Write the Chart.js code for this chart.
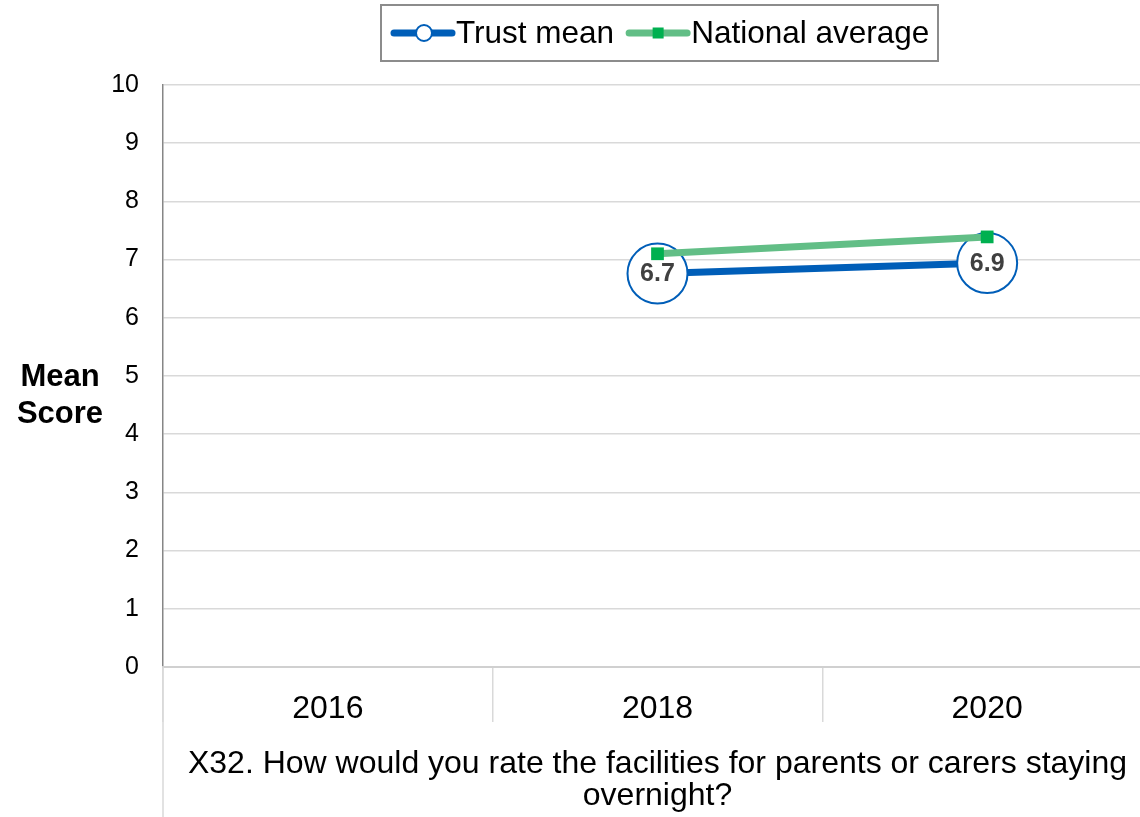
<!DOCTYPE html>
<html lang="en">
<head>
    <meta charset="UTF-8">
    <title>Mean Score</title>
    <script src="https://cdn.jsdelivr.net/npm/chart.js"></script>
    <style>
        body { margin: 0; overflow: hidden; background: #fff; }
        #scoreChart { display: block; }
    </style>
</head>
<body>
    <canvas id="scoreChart" width="1184" height="817"></canvas>

    <script>
        // data
        const years = ['2016', '2018', '2020'];
        const trustMean = [null, 6.76, 6.94];
        const trustLabels = ['', '6.7', '6.9'];
        const nationalAverage = [null, 7.1, 7.39];
        const seriesNames = ['Trust mean', 'National average'];
        const yTitle = ['Mean', 'Score'];
        const xTitle = ['X32. How would you rate the facilities for parents or carers staying', 'overnight?'];

        const FONT = "'Liberation Sans', Arial, sans-serif";
        const BLUE = '#005EB8';
        const GREEN_LINE = '#62BE86';
        const GREEN_MARK = '#00B050';

        // legend, axis titles and value labels
        const extras = {
            id: 'extras',
            afterDatasetsDraw(chart) {
                const ctx = chart.ctx;
                const meta = chart.getDatasetMeta(1);
                ctx.save();
                ctx.font = 'bold 25px ' + FONT;
                ctx.fillStyle = '#404040';
                ctx.textAlign = 'center';
                ctx.textBaseline = 'middle';
                meta.data.forEach((pt, i) => {
                    if (trustLabels[i]) ctx.fillText(trustLabels[i], pt.x, pt.y + 1);
                });
                ctx.restore();
            },
            afterDraw(chart) {
                const ctx = chart.ctx;
                const area = chart.chartArea;
                ctx.save();
                // y title, horizontal
                ctx.font = 'bold 31px ' + FONT;
                ctx.fillStyle = '#000';
                ctx.textAlign = 'center';
                ctx.textBaseline = 'middle';
                ctx.fillText(yTitle[0], 60, 377);
                ctx.fillText(yTitle[1], 60, 414);

                // x title, centred under the plot
                ctx.font = '32px ' + FONT;
                const cx = (area.left + area.right) / 2;
                ctx.fillText(xTitle[0], cx, 764);
                ctx.fillText(xTitle[1], cx, 796);

                // left border running down through the x label area
                ctx.strokeStyle = '#d9d9d9';
                ctx.lineWidth = 1.5;
                ctx.beginPath();
                ctx.moveTo(area.left, area.bottom);
                ctx.lineTo(area.left, chart.height);
                ctx.stroke();

                // legend box
                ctx.strokeStyle = '#8c8c8c';
                ctx.lineWidth = 2;
                ctx.strokeRect(381, 5, 557, 56);
                const y = 33;
                ctx.font = '31.5px ' + FONT;
                ctx.textAlign = 'left';
                let x = 394;
                // trust mean
                ctx.strokeStyle = BLUE;
                ctx.lineWidth = 7;
                ctx.lineCap = 'round';
                ctx.beginPath(); ctx.moveTo(x, y); ctx.lineTo(x + 58, y); ctx.stroke();
                ctx.beginPath(); ctx.arc(x + 30, y, 8, 0, Math.PI * 2);
                ctx.fillStyle = '#fff'; ctx.fill();
                ctx.lineWidth = 2; ctx.stroke();
                ctx.fillStyle = '#000';
                ctx.fillText(seriesNames[0], x + 62, y + 1);
                x = x + 62 + ctx.measureText(seriesNames[0]).width + 15;
                // national average
                ctx.strokeStyle = GREEN_LINE;
                ctx.lineWidth = 7;
                ctx.beginPath(); ctx.moveTo(x, y); ctx.lineTo(x + 58, y); ctx.stroke();
                ctx.fillStyle = GREEN_MARK;
                ctx.fillRect(x + 29 - 5.5, y - 5.5, 11, 11);
                ctx.fillStyle = '#000';
                ctx.fillText(seriesNames[1], x + 62, y + 1);
                ctx.restore();
            }
        };

        const ctx = document.getElementById('scoreChart').getContext('2d');
        new Chart(ctx, {
            type: 'line',
            data: {
                labels: years,
                datasets: [{
                    label: seriesNames[1],
                    data: nationalAverage,
                    order: 0,
                    borderColor: GREEN_LINE,
                    borderWidth: 7,
                    pointStyle: 'rect',
                    pointRadius: 9,
                    pointBorderWidth: 0,
                    pointBackgroundColor: GREEN_MARK,
                    pointHoverRadius: 9,
                    tension: 0
                }, {
                    label: seriesNames[0],
                    data: trustMean,
                    order: 1,
                    borderColor: BLUE,
                    borderWidth: 7,
                    pointStyle: 'circle',
                    pointRadius: 30,
                    pointBorderWidth: 2,
                    pointBorderColor: BLUE,
                    pointBackgroundColor: '#fff',
                    pointHoverRadius: 30,
                    tension: 0
                }]
            },
            options: {
                responsive: false,
                animation: false,
                events: [],
                layout: { padding: { top: 85, left: 0, right: 0, bottom: 0 } },
                scales: {
                    y: {
                        min: 0,
                        max: 10,
                        afterFit(scale) { scale.width = 163; },
                        ticks: { stepSize: 1, padding: 24, color: '#000', font: { family: FONT, size: 25 } },
                        grid: { color: '#d9d9d9', lineWidth: 1.5, drawTicks: false },
                        border: { color: '#868686', width: 1.5 }
                    },
                    x: {
                        offset: true,
                        afterFit(scale) { scale.height = 150; },
                        ticks: { padding: -32, color: '#000', font: { family: FONT, size: 32 } },
                        grid: { offset: true, drawOnChartArea: false, tickLength: 55, color: '#d9d9d9', lineWidth: 1.5 },
                        border: { color: '#d0d0d0', width: 2 }
                    }
                },
                plugins: {
                    legend: { display: false },
                    tooltip: { enabled: false }
                }
            },
            plugins: [extras]
        });
    </script>
</body>
</html>
